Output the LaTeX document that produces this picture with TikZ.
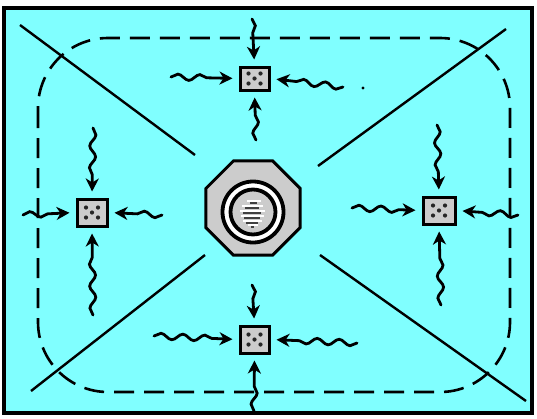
\documentclass[tikz,border=0pt]{standalone}
\usetikzlibrary{decorations.pathmorphing,arrows.meta,shapes.geometric,calc}
\definecolor{cyanbg}{RGB}{128,255,255}
\newcommand\wavyarrow[2]{\draw[conn] (#1) decorate{-- ($(#2)!22pt!(#1)$)} -- (#2);}
\begin{document}
\begin{tikzpicture}[x=1pt,y=-1pt,
  cell/.style={draw, line width=3pt, fill=gray!40, inner sep=0pt},
  conn/.style={line width=2.8pt, line cap=round,
    decoration={snake, amplitude=3pt, segment length=22pt},
    -{Stealth[length=13pt,width=13pt,inset=4pt]}, shorten >=6pt},
  diag/.style={line width=2.4pt},
  dot/.style={fill=black!85, circle, inner sep=0pt, minimum size=4.2pt}
  ]
\useasboundingbox (0,0) rectangle (537,418);
% frame
\draw[line width=3.2pt, fill=cyanbg] (4,8) rectangle (532,413);
% diagonals
\draw[diag] (20,25) -- (195,155);
\draw[diag] (506,29) -- (318,166);
\draw[diag] (31,391) -- (205,255);
\draw[diag] (526,401) -- (320,255);
% dashed rounded boundary
\draw[line width=2.6pt, dash pattern=on 20pt off 10pt, rounded corners=70pt] (38,38) rectangle (510,392);
% hub
\node[regular polygon, regular polygon sides=8, minimum size=102pt, draw, line width=3pt, fill=gray!40] (hub) at (253,208) {};
\node[circle, draw, line width=3.8pt, fill=white, minimum size=61pt, inner sep=0pt] (ring) at (253,212) {};
\node[circle, draw, line width=3.8pt, fill=gray!40, minimum size=45pt, inner sep=0pt] (core) at (253,212) {};
\foreach \dy/\a/\b in {-11/-6/8, -6/-11/10, -1/-13/12, 4/-12/11, 9/-10/9, 13/-5/5} {
  \draw[line width=1.3pt, white] ([xshift=\a pt, yshift=-\dy pt]core.center) -- ([xshift=\b pt, yshift=-\dy pt]core.center);
  \draw[line width=1.2pt, black!75] ([xshift=\a pt+3pt, yshift=-\dy pt-2pt]core.center) -- ([xshift=\b pt-4pt, yshift=-\dy pt-2pt]core.center);
}
% cells
\node[cell, minimum width=29pt, minimum height=23pt] (top) at (254.5,78.5) {};
\node[cell, minimum width=30pt, minimum height=27pt] (left) at (92,212.5) {};
\node[cell, minimum width=32pt, minimum height=27pt] (right) at (439,210.5) {};
\node[cell, minimum width=29pt, minimum height=27pt] (bottom) at (254.5,339.5) {};
\foreach \n in {top,left,right,bottom} {
  \foreach \dx/\dy in {-6/-5,6/-5,-6/5,6/5,0/0} {
    \node[dot] at ([xshift=\dx pt, yshift=\dy pt]\n.center) {};
  }
}
% arrow start coordinates
\coordinate (ta) at (252,19);
\coordinate (tl) at (171,77);
\coordinate (tr) at (343,87);
\coordinate (tb) at (256,140);
\coordinate (la) at (93,128);
\coordinate (ll) at (23,215);
\coordinate (lr) at (162,215);
\coordinate (lb) at (93,315);
\coordinate (ra) at (437,125);
\coordinate (rl) at (352,208);
\coordinate (rr) at (518,215);
\coordinate (rb) at (441,305);
\coordinate (ba) at (252,285);
\coordinate (bl) at (154,336);
\coordinate (br) at (357,343);
\coordinate (bb) at (254,411);
% arrows
\wavyarrow{ta}{top.north}
\wavyarrow{tl}{top.west}
\wavyarrow{tr}{top.east}
\wavyarrow{tb}{top.south}
\wavyarrow{la}{left.north}
\wavyarrow{ll}{left.west}
\wavyarrow{lr}{left.east}
\wavyarrow{lb}{left.south}
\wavyarrow{ra}{right.north}
\wavyarrow{rl}{right.west}
\wavyarrow{rr}{right.east}
\wavyarrow{rb}{right.south}
\wavyarrow{ba}{bottom.north}
\wavyarrow{bl}{bottom.west}
\wavyarrow{br}{bottom.east}
\wavyarrow{bb}{bottom.south}
% small dot
\fill (363,88) circle (1.6pt);
\end{tikzpicture}
\end{document}
